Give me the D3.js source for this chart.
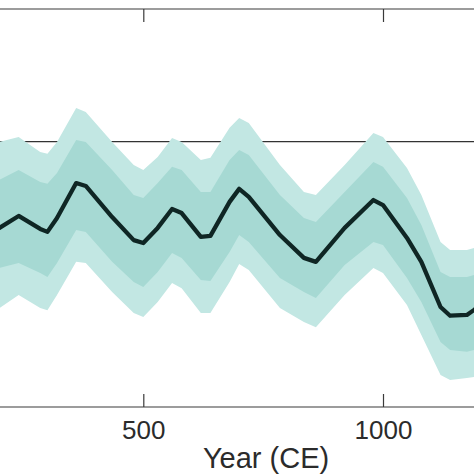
<!DOCTYPE html>
<html>
<head>
<meta charset="utf-8">
<script src="https://cdn.jsdelivr.net/npm/d3@7"></script>
<style>
  html, body { margin: 0; padding: 0; background: #ffffff; }
  svg { display: block; }
</style>
</head>
<body>
<svg id="chart" width="474" height="474"></svg>
<script>
// ---- data ----
const years      = [180, 200, 240, 285, 300, 320, 360, 380, 435, 480, 500, 530, 560, 580, 620, 640, 680, 700, 720, 785, 835, 860, 920, 980, 1000, 1050, 1080, 1120, 1140, 1175, 1190, 1215];
const meanVals   = [-0.33, -0.325, -0.280, -0.329, -0.340, -0.288, -0.156, -0.167, -0.284, -0.371, -0.382, -0.325, -0.254, -0.269, -0.359, -0.355, -0.227, -0.178, -0.208, -0.352, -0.438, -0.453, -0.325, -0.220, -0.239, -0.363, -0.453, -0.623, -0.656, -0.653, -0.634, -0.60];
const upperOuter = [-0.005, -0.001, 0.018, -0.039, -0.046, -0.001, 0.127, 0.112, -0.001, -0.088, -0.107, -0.058, 0.014, -0.001, -0.069, -0.061, 0.052, 0.089, 0.070, -0.088, -0.190, -0.201, -0.088, 0.033, 0.018, -0.099, -0.201, -0.378, -0.408, -0.408, -0.401, -0.37];
const upperInner = [-0.15, -0.144, -0.107, -0.152, -0.159, -0.118, 0.006, -0.001, -0.107, -0.201, -0.212, -0.156, -0.095, -0.107, -0.190, -0.190, -0.069, -0.031, -0.050, -0.201, -0.288, -0.303, -0.190, -0.077, -0.095, -0.212, -0.314, -0.491, -0.510, -0.510, -0.502, -0.47];
const lowerInner = [-0.48, -0.476, -0.457, -0.495, -0.510, -0.457, -0.333, -0.340, -0.453, -0.529, -0.548, -0.491, -0.420, -0.438, -0.521, -0.525, -0.416, -0.352, -0.378, -0.514, -0.567, -0.589, -0.465, -0.378, -0.389, -0.514, -0.604, -0.755, -0.785, -0.792, -0.785, -0.75];
const lowerOuter = [-0.63, -0.627, -0.578, -0.627, -0.635, -0.578, -0.453, -0.457, -0.567, -0.646, -0.661, -0.604, -0.533, -0.552, -0.646, -0.646, -0.529, -0.461, -0.484, -0.627, -0.680, -0.699, -0.578, -0.476, -0.495, -0.616, -0.729, -0.879, -0.898, -0.891, -0.887, -0.86];
const referenceValue = 0;
const xTicks = [500, 1000];
const xLabel = "Year (CE)";

// ---- layout ----
const W = 474, H = 474;
const plotTop = 9, plotBottom = 407;
const pxPerYear = 0.4794;
const x500 = 143.3;
const xDomain = [0, 1512];
const x = d3.scaleLinear()
  .domain(xDomain)
  .range([x500 - 500 * pxPerYear, x500 + (xDomain[1] - 500) * pxPerYear]);
const y = d3.scaleLinear().domain([-1.0, 0.5]).range([plotBottom, plotTop]);

const svg = d3.select("#chart");

svg.append("defs").append("clipPath").attr("id", "plotClip")
  .append("rect").attr("x", 0).attr("y", plotTop).attr("width", W).attr("height", plotBottom - plotTop);

const rows = years.map((yr, i) => ({
  year: yr, mean: meanVals[i],
  uo: upperOuter[i], ui: upperInner[i], li: lowerInner[i], lo: lowerOuter[i]
}));

const plot = svg.append("g").attr("clip-path", "url(#plotClip)");

// reference line (behind the bands)
plot.append("line")
  .attr("x1", 0).attr("x2", W)
  .attr("y1", y(referenceValue)).attr("y2", y(referenceValue))
  .attr("stroke", "#333333").attr("stroke-width", 1.3);

const outerArea = d3.area().x(d => x(d.year)).y0(d => y(d.lo)).y1(d => y(d.uo));
const innerArea = d3.area().x(d => x(d.year)).y0(d => y(d.li)).y1(d => y(d.ui));
const meanLine = d3.line().x(d => x(d.year)).y(d => y(d.mean));

plot.append("path").datum(rows).attr("d", outerArea).attr("fill", "#c2e7e3");
plot.append("path").datum(rows).attr("d", innerArea).attr("fill", "#a6d9d3");
plot.append("path").datum(rows).attr("d", meanLine)
  .attr("fill", "none").attr("stroke", "#0f2624")
  .attr("stroke-width", 4.3).attr("stroke-linejoin", "round");

// axes (box top & bottom, inward ticks)
const axisColor = "#3a3a3a";
const bottomAxis = d3.axisBottom(x).tickValues(xTicks).tickSize(-13).tickFormat(d3.format("d"));
const topAxis = d3.axisTop(x).tickValues(xTicks).tickSize(-13).tickFormat("");

const gb = svg.append("g").attr("transform", `translate(0,${plotBottom})`).call(bottomAxis);
const gt = svg.append("g").attr("transform", `translate(0,${plotTop})`).call(topAxis);

[gb, gt].forEach(g => {
  g.select(".domain").remove();
  g.selectAll(".tick line").attr("stroke", axisColor).attr("stroke-width", 1.2);
});
gb.selectAll(".tick text")
  .attr("fill", "#2b2b2b")
  .attr("font-family", "'Liberation Sans', Arial, Helvetica, sans-serif")
  .attr("font-size", 26)
  .attr("dy", null)
  .attr("y", 32);

svg.append("line").attr("x1", 0).attr("x2", W).attr("y1", plotBottom).attr("y2", plotBottom)
  .attr("stroke", axisColor).attr("stroke-width", 1.2);
svg.append("line").attr("x1", 0).attr("x2", W).attr("y1", plotTop).attr("y2", plotTop)
  .attr("stroke", axisColor).attr("stroke-width", 1.2);

svg.append("text")
  .attr("x", (x.range()[0] + x.range()[1]) / 2)
  .attr("y", 468)
  .attr("text-anchor", "middle")
  .attr("fill", "#2b2b2b")
  .attr("font-family", "'Liberation Sans', Arial, Helvetica, sans-serif")
  .attr("font-size", 29)
  .text(xLabel);
</script>
</body>
</html>
